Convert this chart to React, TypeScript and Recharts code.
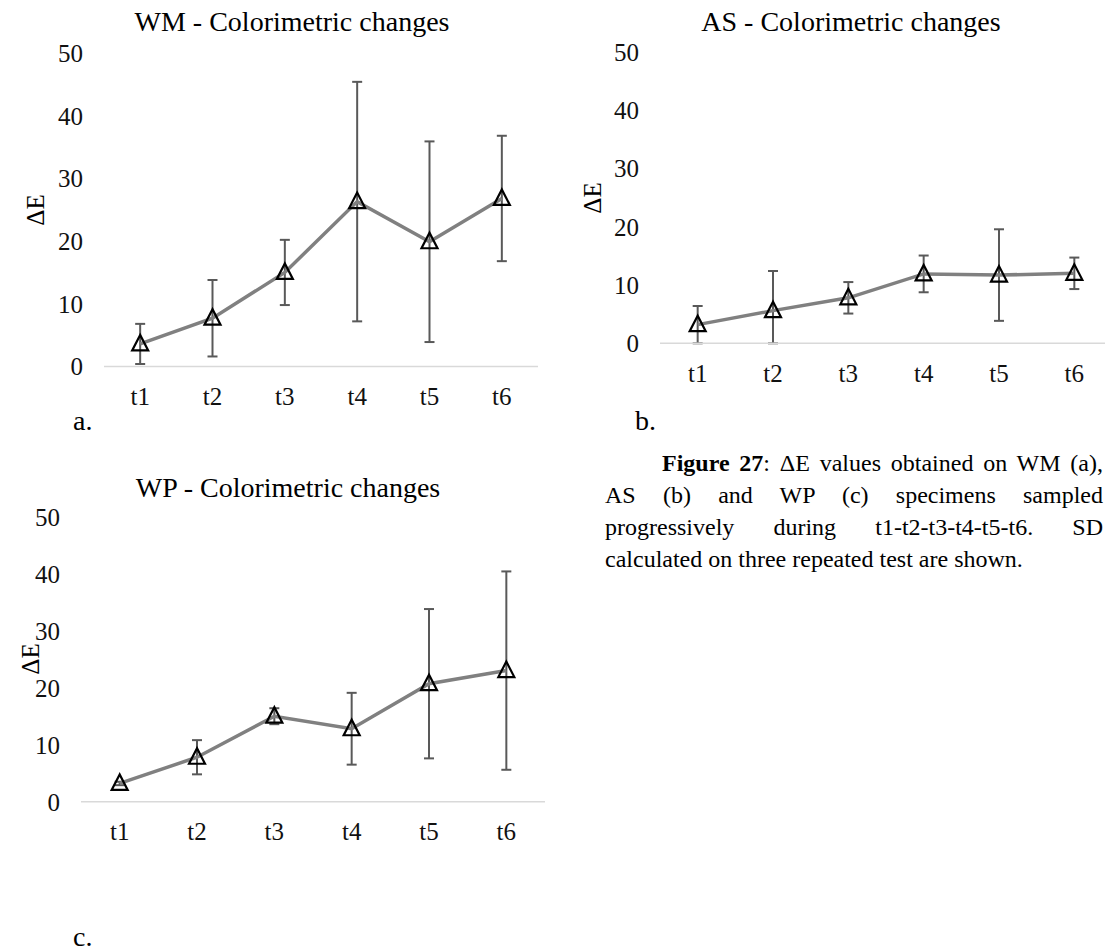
import React from "react";
import { LineChart, Line, XAxis, YAxis, ErrorBar } from "recharts";

const categories = ["t1", "t2", "t3", "t4", "t5", "t6"];
const yTicks = [0, 10, 20, 30, 40, 50];

// ΔE means and SD
const wmValues = [3.6, 7.7, 15.0, 26.3, 19.9, 26.8];
const wmSd = [3.2, 6.1, 5.2, 19.1, 16.0, 10.0];

const asValues = [3.2, 5.6, 7.8, 11.9, 11.7, 12.0];
const asSd = [3.2, 6.8, 2.7, 3.15, 7.85, 2.7];

const wpValues = [3.2, 7.8, 15.0, 12.8, 20.7, 23.0];
const wpSd = [0.3, 3.0, 1.4, 6.3, 13.1, 17.4];

const captionLines = [
  "Figure 27",
  ": ΔE values obtained on WM (a),",
  "AS (b) and WP (c) specimens sampled",
  "progressively during t1-t2-t3-t4-t5-t6. SD",
  "calculated on three repeated test are shown.",
];

const FONT = '"Liberation Serif", "Times New Roman", serif';

// like Excel, the bar is cut at the axis minimum (0)
const buildRows = (values: number[], sd: number[]) =>
  categories.map((t, i) => ({ t, v: values[i], sd: [Math.min(sd[i], values[i]), sd[i]] }));

const Triangle = (props: any) => {
  const { cx, cy, index } = props;
  if (cx == null || cy == null) return <g key={`d-${index}`} />;
  return (
    <polygon
      key={`d-${index}`}
      points={`${cx},${cy - 9} ${cx - 8},${cy + 6.5} ${cx + 8},${cy + 6.5}`}
      fill="none"
      stroke="#000"
      strokeWidth={2.2}
      strokeLinejoin="miter"
    />
  );
};

interface PanelProps {
  values: number[];
  sd: number[];
  width: number;
  height: number;
  margin: { top: number; right: number; bottom: number; left: number };
  yWidth: number;
}

const Panel = ({ values, sd, width, height, margin, yWidth }: PanelProps) => {
  const rows = buildRows(values, sd);
  const plotW = width - margin.left - margin.right - yWidth;
  const half = plotW / (categories.length * 2);
  return (
    <LineChart width={width} height={height} data={rows} margin={margin}>
      <XAxis
        dataKey="t"
        padding={{ left: half, right: half }}
        axisLine={{ stroke: "#d9d9d9", strokeWidth: 1.5 }}
        tickLine={false}
        tickSize={0}
        tickMargin={20.5}
        height={40}
        tick={{ fill: "#111", fontSize: 25, fontFamily: FONT }}
        interval={0}
      />
      <YAxis
        domain={[0, 50]}
        ticks={yTicks}
        axisLine={false}
        tickLine={false}
        tickSize={0}
        tickMargin={21}
        width={yWidth}
        tick={{ fill: "#111", fontSize: 25, fontFamily: FONT }}
      />
      <Line
        type="linear"
        dataKey="v"
        stroke="#808080"
        strokeWidth={3.5}
        dot={Triangle}
        activeDot={false}
        isAnimationActive={false}
      >
        <ErrorBar dataKey="sd" direction="y" width={5} stroke="#595959" strokeWidth={2} />
      </Line>
    </LineChart>
  );
};

const abs = (left: number, top: number): React.CSSProperties => ({
  position: "absolute",
  left,
  top,
});

const Title = ({ text, cx, top }: { text: string; cx: number; top: number }) => (
  <div
    style={{
      ...abs(cx, top),
      transform: "translateX(-50%)",
      whiteSpace: "nowrap",
      fontFamily: FONT,
      fontSize: 28,
      lineHeight: 1,
      color: "#000",
    }}
  >
    {text}
  </div>
);

const AxisTitle = ({ cx, cy }: { cx: number; cy: number }) => (
  <div
    style={{
      ...abs(cx, cy),
      transform: "translate(-50%, -50%) rotate(-90deg)",
      whiteSpace: "nowrap",
      fontFamily: FONT,
      fontSize: 25,
      lineHeight: 1,
      color: "#000",
    }}
  >
    ΔE
  </div>
);

const Letter = ({ text, left, top }: { text: string; left: number; top: number }) => (
  <div style={{ ...abs(left, top), fontFamily: FONT, fontSize: 28, lineHeight: 1, color: "#000" }}>
    {text}
  </div>
);

const lineStyle = (last: boolean): React.CSSProperties => ({
  height: 32,
  lineHeight: "32px",
  whiteSpace: "nowrap",
  textAlign: last ? "left" : "justify",
  textAlignLast: last ? "left" : "justify",
});

export default function App() {
  return (
    <div
      style={{
        position: "absolute",
        left: 0,
        top: 0,
        width: 1105,
        height: 952,
        overflow: "hidden",
        background: "#fff",
      }}
    >
      {/* a. WM */}
      <div style={abs(0, 0)}>
        <Panel
          values={wmValues}
          sd={wmSd}
          width={560}
          height={420}
          margin={{ top: 53, right: 22, bottom: 13.5, left: 0 }}
          yWidth={104}
        />
      </div>
      <Title text="WM - Colorimetric changes" cx={292} top={8} />
      <AxisTitle cx={35} cy={210} />
      <Letter text="a." left={73} top={407} />

      {/* b. AS */}
      <div style={{ ...abs(560, 0), width: 545, height: 420, overflow: "hidden" }}>
        <Panel
          values={asValues}
          sd={asSd}
          width={560}
          height={400}
          margin={{ top: 51.7, right: 8, bottom: 16.7, left: 0 }}
          yWidth={100}
        />
      </div>
      <Title text="AS - Colorimetric changes" cx={851} top={8} />
      <AxisTitle cx={592} cy={198} />
      <Letter text="b." left={635} top={407} />

      {/* c. WP */}
      <div style={abs(0, 460)}>
        <Panel
          values={wpValues}
          sd={wpSd}
          width={560}
          height={400}
          margin={{ top: 56.7, right: 15, bottom: 18.3, left: 0 }}
          yWidth={81}
        />
      </div>
      <Title text="WP - Colorimetric changes" cx={288} top={474} />
      <AxisTitle cx={30} cy={659} />
      <Letter text="c." left={73} top={923} />

      {/* caption */}
      <div
        style={{
          ...abs(605, 447),
          width: 498,
          fontFamily: FONT,
          fontSize: 24,
          color: "#000",
        }}
      >
        <div style={{ ...lineStyle(false), paddingLeft: 57 }}>
          <b>{captionLines[0]}</b>
          {captionLines[1]}
        </div>
        {captionLines.slice(2).map((l, i, arr) => (
          <div key={l} style={lineStyle(i === arr.length - 1)}>
            {l}
          </div>
        ))}
      </div>
    </div>
  );
}
